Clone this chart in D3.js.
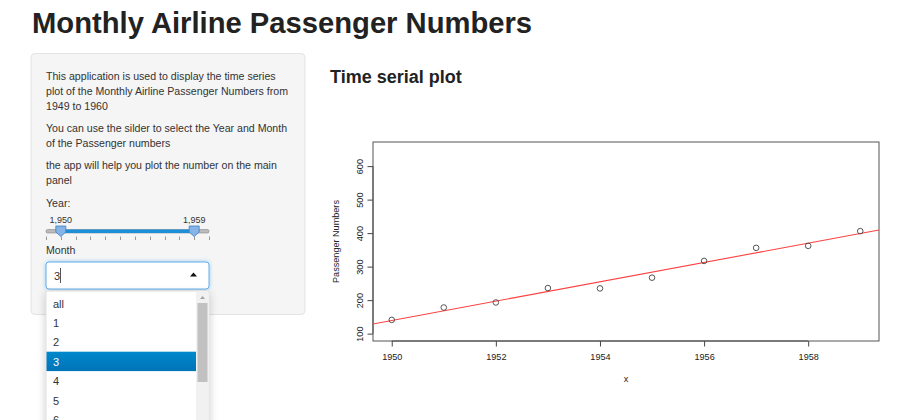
<!DOCTYPE html>
<html>
<head>
<meta charset="utf-8">
<script src="https://cdnjs.cloudflare.com/ajax/libs/d3/7.8.5/d3.min.js"></script>
<style>
  body { margin: 0; background: #fff; }
  svg { display: block; font-family: "Liberation Sans", Arial, Helvetica, sans-serif; }
</style>
</head>
<body>
<svg width="900" height="420"></svg>
<script>
// March passenger numbers (AirPassengers) for the selected years
const years = [1950, 1951, 1952, 1953, 1954, 1955, 1956, 1957, 1958, 1959];
const passengers = [141, 178, 193, 236, 235, 267, 317, 356, 362, 406];
const xTicks = [1950, 1952, 1954, 1956, 1958];
const yTicks = [100, 200, 300, 400, 500, 600];

// sidebar content
const introLines = [
  ['This application is used to display the time series',
   'plot of the Monthly Airline Passenger Numbers from',
   '1949 to 1960'],
  ['You can use the silder to select the Year and Month',
   'of the Passenger numbers'],
  ['the app will help you plot the number on the main',
   'panel']
];
const sliderYears = d3.range(1949, 1961);
const sliderRange = [1950, 1959];
const monthOptions = ['all', '1', '2', '3', '4', '5', '6'];
const selectedMonth = '3';

const svg = d3.select('svg');

const defs = svg.append('defs');
const shadow = defs.append('filter').attr('id', 'shadow')
  .attr('x', '-20%').attr('y', '-20%').attr('width', '140%').attr('height', '140%');
shadow.append('feDropShadow').attr('dx', 0).attr('dy', 3).attr('stdDeviation', 4)
  .attr('flood-color', '#000').attr('flood-opacity', 0.2);
const glow = defs.append('filter').attr('id', 'glow')
  .attr('x', '-10%').attr('y', '-30%').attr('width', '120%').attr('height', '160%');
glow.append('feDropShadow').attr('dx', 0).attr('dy', 0).attr('stdDeviation', 2)
  .attr('flood-color', '#66afe9').attr('flood-opacity', 0.6);
const selGrad = defs.append('linearGradient').attr('id', 'selGrad')
  .attr('x1', 0).attr('y1', 0).attr('x2', 0).attr('y2', 1);
selGrad.append('stop').attr('offset', '0%').attr('stop-color', '#0088cc');
selGrad.append('stop').attr('offset', '100%').attr('stop-color', '#0074b7');

// page title
svg.append('text')
  .attr('x', 32).attr('y', 33)
  .attr('font-size', 29.2).attr('font-weight', 'bold').attr('fill', '#222')
  .text('Monthly Airline Passenger Numbers');

// sidebar well
svg.append('rect')
  .attr('x', 31).attr('y', 53.5).attr('width', 274).attr('height', 261)
  .attr('rx', 4).attr('fill', '#f5f5f5').attr('stroke', '#e3e3e3');

const side = svg.append('g').attr('fill', '#333').attr('font-size', 10.6);
const paraTops = [80, 131.5, 169];
introLines.forEach((lines, i) => {
  side.selectAll(null)
    .data(lines)
    .enter().append('text')
    .attr('x', 46)
    .attr('y', (d, j) => paraTops[i] + j * 15)
    .text(d => d);
});

side.append('text').attr('x', 46).attr('y', 206.5).text('Year:');

// year slider
const sx = d3.scaleLinear().domain([1949, 1960]).range([46, 209]);
const slider = svg.append('g');
slider.append('rect')
  .attr('x', sx(1949)).attr('y', 229.5).attr('width', sx(1960) - sx(1949)).attr('height', 3.5)
  .attr('rx', 1.5).attr('fill', '#bbb').attr('stroke', '#888').attr('stroke-width', 0.6);
slider.append('rect')
  .attr('x', sx(sliderRange[0])).attr('y', 229.5)
  .attr('width', sx(sliderRange[1]) - sx(sliderRange[0])).attr('height', 3.5)
  .attr('fill', '#1b8fd8');
slider.selectAll('line.tk')
  .data(sliderYears)
  .enter().append('line')
  .attr('x1', d => Math.round(sx(d)) + 0.5).attr('x2', d => Math.round(sx(d)) + 0.5)
  .attr('y1', 236.5).attr('y2', 240)
  .attr('stroke', '#999');
slider.selectAll('path.handle')
  .data(sliderRange)
  .enter().append('path')
  .attr('transform', d => `translate(${sx(d)},0)`)
  .attr('d', 'M-5,226 L5,226 L5,232 L0,236.5 L-5,232 Z')
  .attr('fill', '#86b3e8').attr('stroke', '#3d7fc7').attr('stroke-width', 0.8);
slider.selectAll('text')
  .data(sliderRange)
  .enter().append('text')
  .attr('x', d => sx(d)).attr('y', 223)
  .attr('text-anchor', 'middle').attr('font-size', 9).attr('fill', '#333')
  .text(d => d3.format(',')(d));

side.append('text').attr('x', 46).attr('y', 253.5).text('Month');

// select box (focused)
svg.append('rect')
  .attr('x', 46).attr('y', 262).attr('width', 163).attr('height', 27)
  .attr('rx', 3).attr('fill', '#fff').attr('stroke', '#66afe9')
  .attr('filter', 'url(#glow)');
svg.append('text')
  .attr('x', 54).attr('y', 279.5).attr('font-size', 11).attr('fill', '#333')
  .text(selectedMonth);
svg.append('line')
  .attr('x1', 60.5).attr('x2', 60.5).attr('y1', 268).attr('y2', 283)
  .attr('stroke', '#555');
svg.append('path')
  .attr('d', 'M190,276.5 L197,276.5 L193.5,272.5 Z').attr('fill', '#111');

// dropdown list
const dd = svg.append('g');
dd.append('rect')
  .attr('x', 46).attr('y', 291).attr('width', 163).attr('height', 140)
  .attr('fill', '#fff').attr('stroke', '#ddd').attr('filter', 'url(#shadow)');
const itemY = d3.scaleBand().domain(monthOptions).range([294, 294 + 19.4 * monthOptions.length]);
dd.append('rect')
  .attr('x', 46.5).attr('y', itemY(selectedMonth) - 0.5).attr('width', 149.5).attr('height', itemY.bandwidth())
  .attr('fill', 'url(#selGrad)');
dd.selectAll('text')
  .data(monthOptions)
  .enter().append('text')
  .attr('x', 53).attr('y', d => itemY(d) + 13.5)
  .attr('font-size', 11)
  .attr('fill', d => d === selectedMonth ? '#fff' : '#333')
  .text(d => d);
// scrollbar
dd.append('rect').attr('x', 196).attr('y', 291.5).attr('width', 12.5).attr('height', 130).attr('fill', '#f1f1f1');
dd.append('rect').attr('x', 197.5).attr('y', 303).attr('width', 10).attr('height', 79).attr('fill', '#c1c1c1');
dd.append('path').attr('d', 'M200,299 L205,299 L202.5,296 Z').attr('fill', '#a3a3a3');

// main panel heading
svg.append('text')
  .attr('x', 330).attr('y', 82.5)
  .attr('font-size', 18).attr('font-weight', 'bold').attr('fill', '#222')
  .text('Time serial plot');

// ---- R-style plot ----
const x = d3.scaleLinear().domain([1949.64, 1959.36]).range([373, 879]);
const y = d3.scaleLinear().domain([78, 672]).range([341, 142]);

const plot = svg.append('g').attr('font-size', 9.1).attr('fill', '#222');

// x axis
const xAxis = plot.append('g')
  .attr('transform', 'translate(0,341)')
  .call(d3.axisBottom(x).tickValues(xTicks).tickSize(5.5).tickPadding(7).tickFormat(d3.format('d')));
xAxis.select('.domain').attr('d', `M${x(1950)},0H${x(1958)}`);

// y axis
const yAxis = plot.append('g')
  .attr('transform', 'translate(373,0)')
  .call(d3.axisLeft(y).tickValues(yTicks).tickSize(5.5).tickFormat(d3.format('d')));
yAxis.select('.domain').attr('d', `M0,${y(100)}V${y(600)}`);
yAxis.selectAll('.tick text')
  .attr('transform', 'rotate(-90)')
  .attr('x', 0).attr('y', -10)
  .attr('dy', 0)
  .attr('text-anchor', 'middle');

[xAxis, yAxis].forEach(a => {
  a.attr('font-family', null).attr('font-size', 9.1);
  a.selectAll('line, .domain').attr('stroke', '#444');
  a.selectAll('text').attr('fill', '#222');
});

// plot box
plot.append('rect')
  .attr('x', 373).attr('y', 142).attr('width', 506).attr('height', 199)
  .attr('fill', 'none').attr('stroke', '#555');

// axis titles
plot.append('text')
  .attr('x', (x.range()[0] + x.range()[1]) / 2).attr('y', 381.5)
  .attr('text-anchor', 'middle').text('x');
plot.append('text')
  .attr('transform', `translate(339,${(y.range()[0] + y.range()[1]) / 2}) rotate(-90)`)
  .attr('text-anchor', 'middle').text('Passenger Numbers');

// linear fit (abline of lm)
const mx = d3.mean(years), my = d3.mean(passengers);
const slope = d3.sum(years, (d, i) => (d - mx) * (passengers[i] - my)) / d3.sum(years, d => (d - mx) ** 2);
const icpt = my - slope * mx;
const xd = x.domain();
plot.append('clipPath').attr('id', 'clip')
  .append('rect').attr('x', 373).attr('y', 142).attr('width', 506).attr('height', 199);
plot.append('line')
  .attr('clip-path', 'url(#clip)')
  .attr('x1', x(xd[0])).attr('y1', y(icpt + slope * xd[0]))
  .attr('x2', x(xd[1])).attr('y2', y(icpt + slope * xd[1]))
  .attr('stroke', '#ff4040').attr('stroke-width', 1.1);

// points
plot.selectAll('circle')
  .data(years)
  .enter().append('circle')
  .attr('cx', d => x(d))
  .attr('cy', (d, i) => y(passengers[i]))
  .attr('r', 2.8)
  .attr('fill', 'none').attr('stroke', '#444').attr('stroke-width', 0.9);
</script>
</body>
</html>
